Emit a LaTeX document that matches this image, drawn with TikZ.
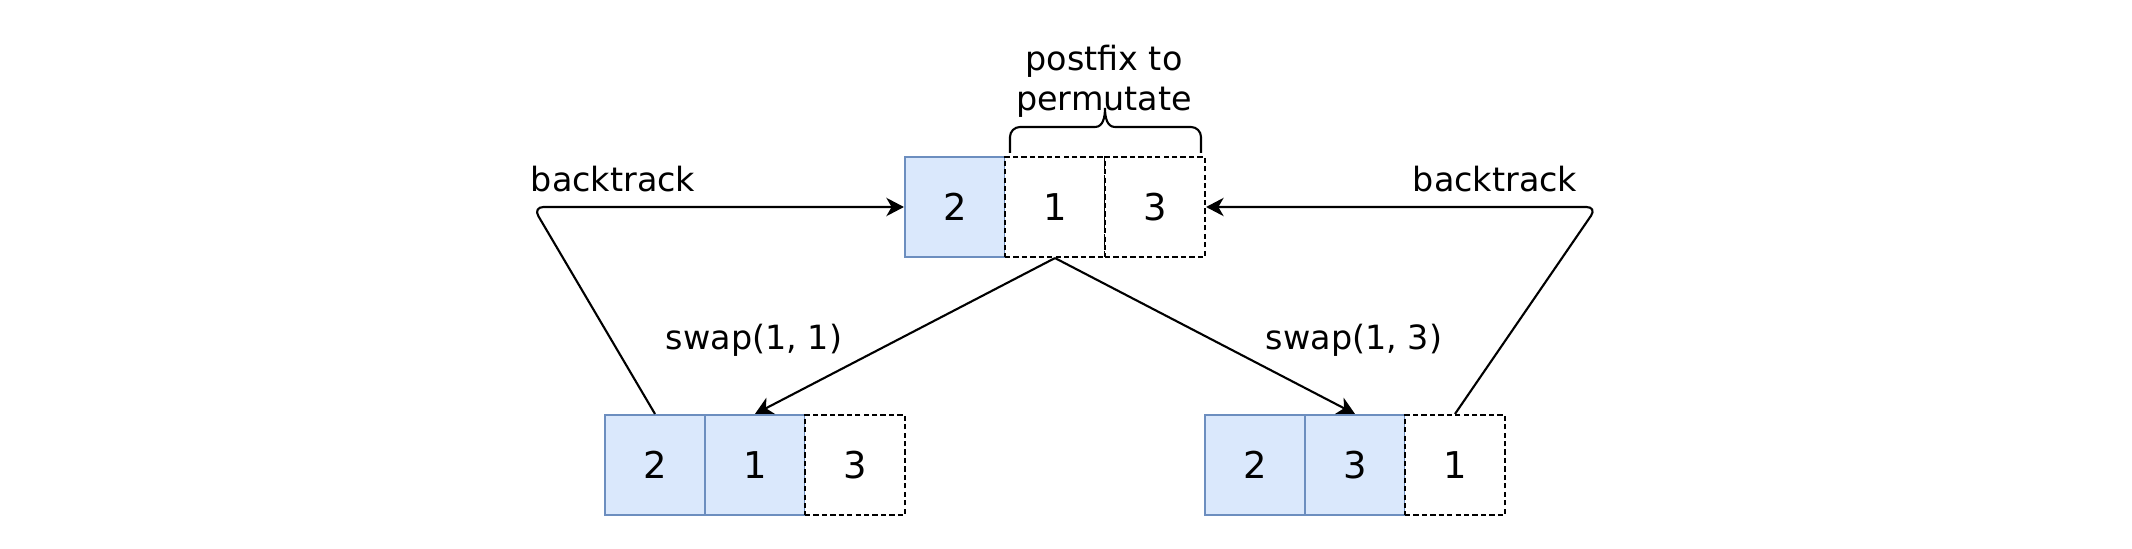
\documentclass[tikz,border=0pt]{standalone}
\usepackage{fontspec}
\setmainfont{DejaVu Sans}
\usetikzlibrary{arrows.meta, calc}
\usepackage{xcolor}
\definecolor{cellblue}{HTML}{DAE8FC}
\definecolor{celledge}{HTML}{6C8EBF}

\begin{document}
\begin{tikzpicture}[line width=0.6pt,
    bluecell/.style={draw=celledge, fill=cellblue, minimum size=1cm, inner sep=0pt,
                     font=\fontsize{10.5}{12}\selectfont},
    dashcell/.style={draw=black, dash pattern=on 1.5pt off 0.9pt, fill=white,
                     minimum size=1cm, inner sep=0pt, font=\fontsize{10.5}{12}\selectfont},
    lbl/.style={font=\fontsize{9.5}{11.5}\selectfont, inner sep=0pt},
    arr/.style={-{Stealth[length=5pt, width=5.2pt, inset=1.5pt]}}]
  \useasboundingbox (0,0) rectangle (21.32,5.48);
  % top row
  \node[bluecell] (t1) at (9.55,3.41) {2};
  \foreach \x/\n/\w in {10.55/t2/1, 11.55/t3/3}{
    \node[dashcell] (\n) at (\x,3.41) {\w};
  }
  % bottom rows
  \foreach \x/\n/\w in {6.55/l1/2, 7.55/l2/1, 12.55/r1/2, 13.55/r2/3}{
    \node[bluecell] (\n) at (\x,0.83) {\w};
  }
  \foreach \x/\n/\w in {8.55/l3/3, 14.55/r3/1}{
    \node[dashcell] (\n) at (\x,0.83) {\w};
  }
  % swaps
  \draw[arr] (t2.south) -- (l2.north);
  \draw[arr] (t2.south) -- (r2.north);
  % backtracks
  \coordinate (bl) at (5.33,3.41);
  \coordinate (br) at (15.97,3.41);
  \draw[arr, rounded corners=3pt] (l1.north) -- (bl) -- (t1.west);
  \draw[arr, rounded corners=3pt] (r3.north) -- (br) -- (t3.east);
  % labels
  \node[lbl] (bt1) at (6.13,3.69) {backtrack};
  \node[lbl] (bt2) at (14.95,3.69) {backtrack};
  \node[lbl] (sw1) at (7.54,2.08) {swap(1, 1)};
  \node[lbl] (sw2) at (13.54,2.08) {swap(1, 3)};
  \node[lbl, align=center] (post) at (11.04,4.67) {postfix to\\permutate};
  % brace over the postfix
  \draw (10.10,3.95) -- (10.10,4.11) to[out=90, in=180] (10.20,4.21) -- (10.95,4.21)
        to[out=0, in=-90] (11.05,4.40) to[out=-90, in=180] (11.15,4.21) -- (11.91,4.21)
        to[out=0, in=90] (12.01,4.11) -- (12.01,3.95);
\end{tikzpicture}
\end{document}
